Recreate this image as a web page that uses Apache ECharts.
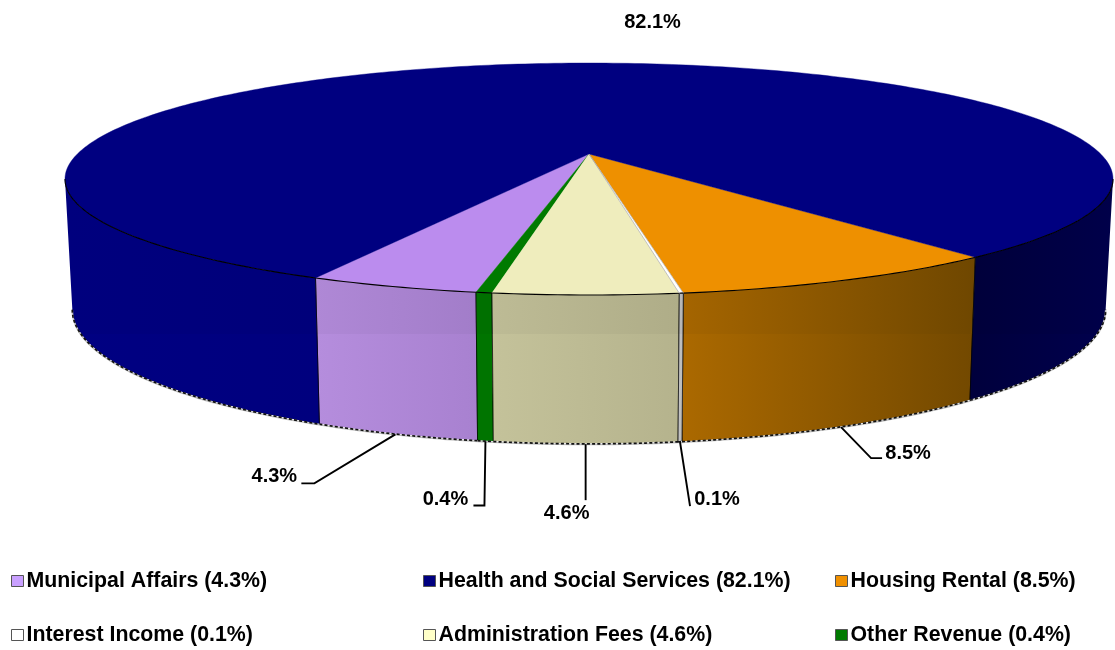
<!DOCTYPE html>
<html><head><meta charset="utf-8">
<style>html,body{margin:0;padding:0;background:#fff}#c{width:1115px;height:650px}</style>
<script src="https://cdn.jsdelivr.net/npm/echarts@6/dist/echarts.min.js"></script>
</head><body><div id="c"></div>
<script>
// ---- data (in order round the front of the pie, left to right)
const categories = ['Municipal Affairs','Other Revenue','Administration Fees','Interest Income','Housing Rental','Health and Social Services'];
const values = [4.3,0.4,4.6,0.1,8.5,82.1];
const valueLabels = ['4.3%','0.4%','4.6%','0.1%','8.5%','82.1%'];
// ---- styles
const topColors = ['#BB8CEE','#007A00','#EFEDBD','#FFFFFF','#EE9000','#000080'];
const legendColors = ['#C9A0FF','#007A00','#FFFFC8','#FFFFFF','#F09000','#000080'];
// wall shading, left edge to right edge; the health wall shows on both sides of the pie
const wallShades = [[['#AF88D6','#A27DC9']],[['#007000','#007000']],[['#BDBB95','#AFAD88']],[['#BCBCBC','#B4B4B4']],[['#A56500','#6F4700']],[['#00003A','#00004A'],['#00007E','#00007A']]];
// ---- projection of the pie
const CX=589, CY=154, A=511.7, B=110.6, K=0.2155, START=-25.5;
const BOT={s:0.986, cy:280, b:128};
const LIMIT=Math.acos(K)*180/Math.PI;
const rad=d=>d*Math.PI/180;
function topPt(t){const x=Math.sin(rad(t)),y=-Math.cos(rad(t)),w=1+K*y;return [CX+A*x/w,CY-B*y/w];}
function botPt(t){const x=Math.sin(rad(t)),y=-Math.cos(rad(t)),w=1+K*y;return [CX+BOT.s*A*x/w,BOT.cy-BOT.b*y/w];}
function hexRgb(h){return [1,3,5].map(i=>parseInt(h.substr(i,2),16));}
function tone(h,f){const c=hexRgb(h);return 'rgb('+c.map(v=>Math.min(255,Math.round(v*f))).join(',')+')';}
function arc(fn,a,b){const n=Math.max(2,Math.ceil(Math.abs(b-a)));const r=[];for(let i=0;i<=n;i++)r.push(fn(a+(b-a)*i/n));return r;}
function grad(c,boost){
  return new echarts.graphic.LinearGradient(0,0,1,0,[{offset:0,color:tone(c[0],boost)},{offset:1,color:tone(c[1],boost)}]);
}
const BAND=334;
function wallPieces(i,a,b){
  const out=[];let piece=0;
  [[a,b],[a-360,b-360]].forEach(r=>{
    const s=Math.max(r[0],-LIMIT),e=Math.min(r[1],LIMIT);
    if(e<=s)return;
    const c=wallShades[i][piece++];
    const T=arc(topPt,s,e),Bt=arc(botPt,s,e);
    out.push({type:'polygon',shape:{points:T.concat(Bt.slice().reverse())},style:{fill:grad(c,1)}});
    // lower, slightly lighter band of the wall
    const upper=T.map((p,k)=>{const q=Bt[k];if(q[1]<=BAND)return q;const f=(BAND-p[1])/(q[1]-p[1]);return [p[0]+f*(q[0]-p[0]),BAND];});
    out.push({type:'polygon',shape:{points:upper.concat(Bt.slice().reverse())},style:{fill:grad(c,1.035)}});
    // rim below the wall: soft grey then dashed dark
    out.push({type:'polyline',shape:{points:Bt.map(p=>[p[0],p[1]+1.4])},style:{fill:null,stroke:'#c0c0c0',lineWidth:1.6}});
    out.push({type:'polyline',shape:{points:Bt.map(p=>[p[0],p[1]+0.7])},style:{fill:null,stroke:'#111',lineWidth:1.7,lineDash:[3,2.2]}});
    // vertical edges
    [[T[0],Bt[0],s],[T[T.length-1],Bt[Bt.length-1],e]].forEach(v=>{
      if(Math.abs(v[2])<LIMIT-0.01) out.push({type:'polyline',shape:{points:[v[0],v[1]]},style:{fill:null,stroke:'rgba(0,0,0,0.7)',lineWidth:1}});
    });
  });
  return out;
}
function topFace(i,a,b){
  const els=[{type:'polygon',shape:{points:[[CX,CY]].concat(arc(topPt,a,b))},style:{fill:topColors[i],stroke:i===3?'#aaa':topColors[i],lineWidth:i===3?0.7:0.4}}];
  [[a,b],[a-360,b-360]].forEach(r=>{
    const s=Math.max(r[0],-LIMIT),e=Math.min(r[1],LIMIT);
    if(e>s) els.push({type:'polyline',shape:{points:arc(topPt,s,e)},style:{fill:null,stroke:'#000',lineWidth:1.1}});
  });
  return els;
}
const FONT='bold 20px "Liberation Sans", Arial, sans-serif';
// label placement relative to the slice's anchor on the lower rim: elbow, line end, text centre
const leaders=[
  {elbow:[-81,50],end:[-94,50],text:[-121,43]},
  {elbow:[-1,65],end:[-12,65],text:[-40,59]},
  {elbow:null,end:[0,57],text:[-19,70]},
  {elbow:null,end:[10,65],text:[37,58]},
  {elbow:[30,32],end:[41,32],text:[67,27]}
];
function labelEls(i,a,b){
  if(i===5) return [{type:'text',style:{text:valueLabels[i],x:652.5,y:22,font:FONT,fill:'#000',align:'center',verticalAlign:'middle'}}];
  const m=(a+b)/2, p=botPt(m), L=leaders[i];
  const pts=[[p[0],p[1]+1]];
  if(L.elbow)pts.push([p[0]+L.elbow[0],p[1]+L.elbow[1]]);
  pts.push([p[0]+L.end[0],p[1]+L.end[1]]);
  return [
    {type:'polyline',shape:{points:pts},style:{fill:null,stroke:'#000',lineWidth:1.9}},
    {type:'text',style:{text:valueLabels[i],x:p[0]+L.text[0],y:p[1]+L.text[1],font:FONT,fill:'#000',align:'center',verticalAlign:'middle'}}
  ];
}
const total=values.reduce((s,v)=>s+v,0);
const names=categories.map((c,i)=>c+' ('+valueLabels[i]+')');
const series=categories.map((c,i)=>({
  type:'custom',name:names[i],coordinateSystem:'none',silent:true,animation:false,z:i===3?3:2,
  itemStyle:{color:legendColors[i]},
  data:[[values[i]]],
  renderItem:function(params,api){
    const before=values.slice(0,i).reduce((s,v)=>s+v,0);
    const a=START+before/total*360, b=a+api.value(0)/total*360;
    return {type:'group',children:wallPieces(i,a,b).concat(topFace(i,a,b)).concat(labelEls(i,a,b))};
  }
}));
function legend(left,top,idx){
  return {orient:'vertical',left:left,top:top,padding:0,itemGap:30,itemWidth:12,itemHeight:11,icon:'rect',selectedMode:false,
    textStyle:{fontFamily:'"Liberation Sans", Arial, sans-serif',fontWeight:'bold',fontSize:21.33,lineHeight:24,color:'#000',padding:[0,0,0,-2]},
    data:idx.map(i=>({name:names[i],itemStyle:{color:legendColors[i],borderColor:'#555',borderWidth:1}}))};
}
const chart=echarts.init(document.getElementById('c'),null,{renderer:'canvas'});
chart.setOption({animation:false,backgroundColor:'#fff',
  legend:[legend(11,569,[0,3]),legend(423,569,[5,2]),legend(835,569,[4,1])],
  series:series});
</script></body></html>
